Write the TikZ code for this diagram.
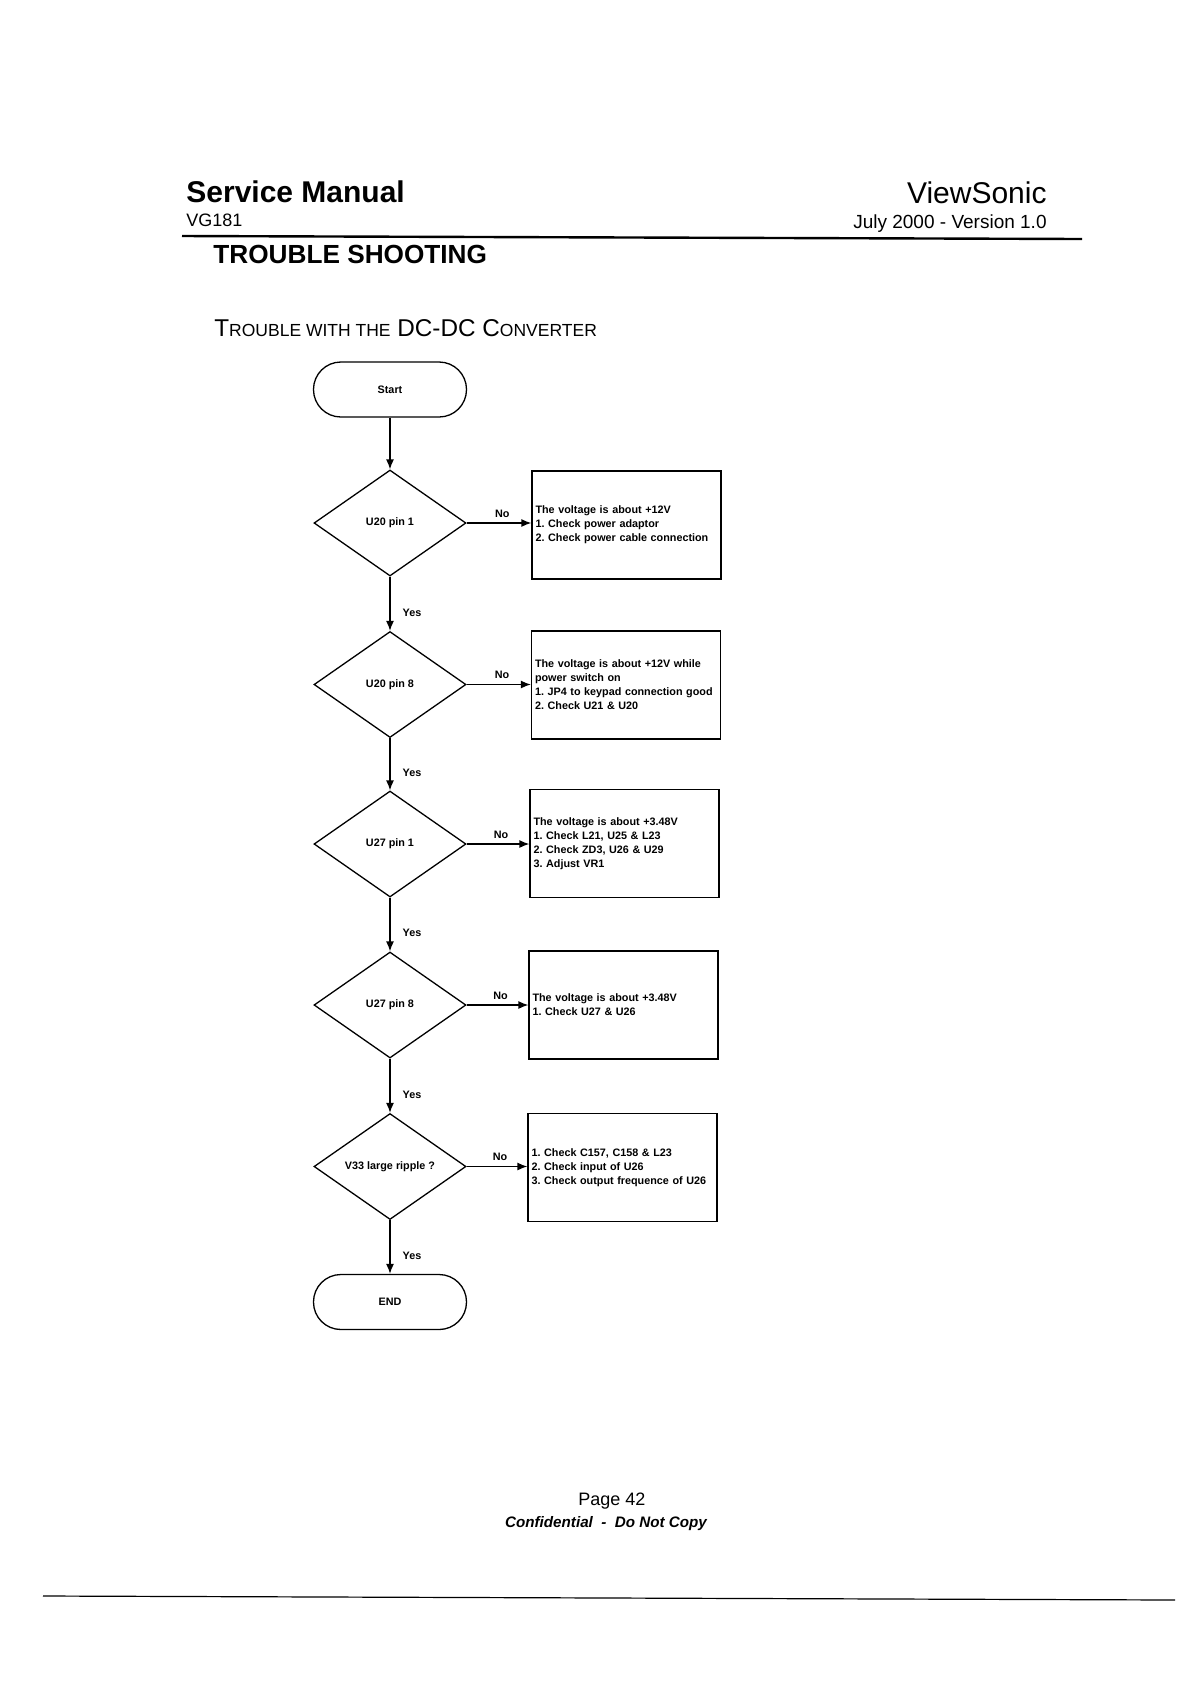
\documentclass[tikz,border=0pt]{standalone}
\usepackage{fontspec}
\setmainfont{Liberation Sans}
\usetikzlibrary{shapes.geometric,arrows.meta}
\frenchspacing
\begin{document}
\begin{tikzpicture}[x=0.5pt,y=-0.5pt,
  every node/.style={inner sep=0pt},
  fc/.style={font=\fontsize{5.4}{7}\selectfont\bfseries},
  term/.style={fc, draw, line width=0.65pt, minimum width=76.5pt, minimum height=27.5pt, rounded corners=13.7pt},
  dec/.style={fc, diamond, draw, line width=0.65pt, minimum width=76pt, minimum height=53pt},
  info/.style={fc, draw, line width=0.65pt, minimum width=94.5pt, minimum height=54pt, text width=91pt, align=left, inner xsep=1.75pt},
  arr/.style={line width=0.65pt, -{Latex[length=5pt,width=4pt]}},
  lab/.style={fc, inner sep=1pt},
]
\fill[white] (0,0) rectangle (1191,1683);
\useasboundingbox (0,0) rectangle (1191,1683);

% header
\node[anchor=base west, font=\fontsize{15}{18}\selectfont\bfseries] (sm) at (186,202) {Service Manual};
\node[anchor=base west, font=\fontsize{9}{11}\selectfont] (vg) at (186,226) {VG181};
\node[anchor=base east, font=\fontsize{15}{18}\selectfont] (vs) at (1047,203) {ViewSonic};
\node[anchor=base east, font=\fontsize{9.5}{11}\selectfont] (ver) at (1047,228) {July 2000 - Version 1.0};
\draw[line width=1.2pt] (182,236) -- (1082,239);
\node[anchor=base west, font=\fontsize{13.1}{15}\selectfont\bfseries] (ts) at (213,263) {TROUBLE SHOOTING};
\node[anchor=base west, font=\fontsize{12.15}{15}\selectfont] (sub) at (214,336) {T{\fontsize{8.75}{11}\selectfont ROUBLE WITH THE} DC-DC C{\fontsize{8.75}{11}\selectfont ONVERTER}};

% flowchart
\node[term] (start) at (390,389.5) {Start};
\node[dec] (d1) at (390,523) {U20 pin 1};
\node[info] (b1) at (626.5,525) {The voltage is about +12V\\1. Check power adaptor\\2. Check power cable connection};
\node[dec] (d2) at (390,684.5) {U20 pin 8};
\node[info] (b2) at (626,685) {The voltage is about +12V while\\power switch on\\1. JP4 to keypad connection good\\2. Check U21 \& U20};
\node[dec] (d3) at (390,844) {U27 pin 1};
\node[info] (b3) at (624.5,843.5) {The voltage is about +3.48V\\1. Check L21, U25 \& L23\\2. Check ZD3, U26 \& U29\\3. Adjust VR1};
\node[dec] (d4) at (390,1005) {U27 pin 8};
\node[info] (b4) at (623.5,1005) {The voltage is about +3.48V\\1. Check U27 \& U26};
\node[dec] (d5) at (390,1166.5) {V33 large ripple ?};
\node[info] (b5) at (622.5,1167.5) {1. Check C157, C158 \& L23\\2. Check input of U26\\3. Check output frequence of U26};
\node[term] (end) at (390,1302) {END};

\draw[arr] (start) -- (d1);
\draw[arr] (d1) -- node[lab, pos=0.66, right=5pt] {Yes} (d2);
\draw[arr] (d2) -- node[lab, pos=0.66, right=5pt] {Yes} (d3);
\draw[arr] (d3) -- node[lab, pos=0.66, right=5pt] {Yes} (d4);
\draw[arr] (d4) -- node[lab, pos=0.66, right=5pt] {Yes} (d5);
\draw[arr] (d5) -- node[lab, pos=0.66, right=5pt] {Yes} (end);

\draw[arr] (d1.east) -- node[lab, pos=0.55, above=1.5pt] {No} (d1.east -| b1.west);
\draw[arr] (d2.east) -- node[lab, pos=0.55, above=1.5pt] {No} (d2.east -| b2.west);
\draw[arr] (d3.east) -- node[lab, pos=0.55, above=1.5pt] {No} (d3.east -| b3.west);
\draw[arr] (d4.east) -- node[lab, pos=0.55, above=1.5pt] {No} (d4.east -| b4.west);
\draw[arr] (d5.east) -- node[lab, pos=0.55, above=1.5pt] {No} (d5.east -| b5.west);

% footer
\node[anchor=base west, font=\fontsize{9}{11}\selectfont] (pg) at (578,1505) {Page 42};
\node[anchor=base, font=\fontsize{7.6}{9}\selectfont\bfseries\itshape] (conf) at (606,1527) {Confidential\ \ -\ \ Do Not Copy};
\draw[line width=0.6pt] (43,1596) -- (1175,1600);
\end{tikzpicture}
\end{document}
